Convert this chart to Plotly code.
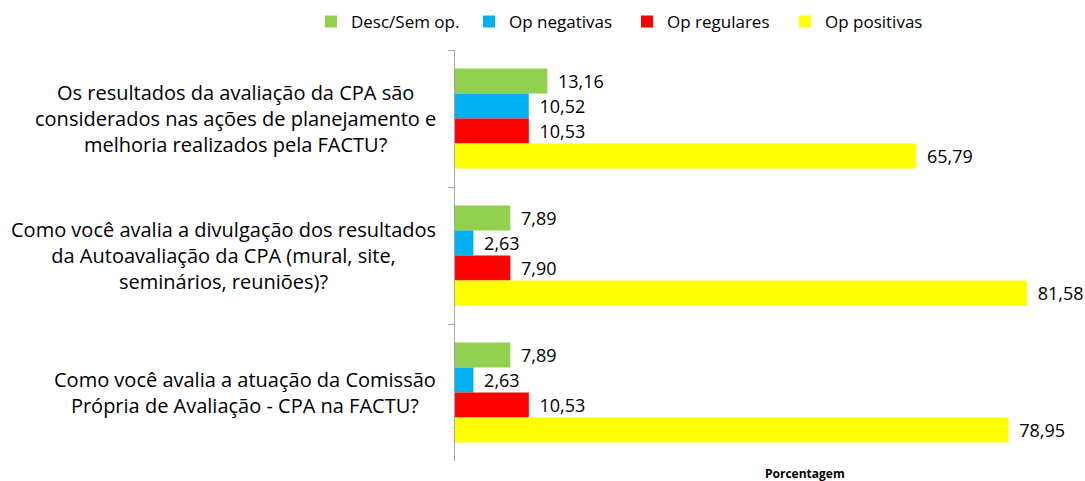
import plotly.graph_objects as go

questions = [
    "Os resultados da avaliação da CPA são<br>considerados nas ações de planejamento e<br>melhoria realizados pela FACTU?",
    "Como você avalia a divulgação dos resultados<br>da Autoavaliação da CPA (mural, site,<br>seminários, reuniões)?",
    "Como você avalia a atuação da Comissão<br>Própria de Avaliação - CPA na FACTU?",
]
series_names = ["Desc/Sem op.", "Op negativas", "Op regulares", "Op positivas"]
desc_sem_op = [13.16, 7.89, 7.89]
op_negativas = [10.52, 2.63, 2.63]
op_regulares = [10.53, 7.90, 10.53]
op_positivas = [65.79, 81.58, 78.95]
colors = ["#92D050", "#00B0F0", "#FF0000", "#FFFF00"]

FONT = "Open Sans"

fig = go.Figure()
for name, values, color in zip(
    series_names, [desc_sem_op, op_negativas, op_regulares, op_positivas], colors
):
    fig.add_trace(
        go.Bar(
            y=questions,
            x=values,
            name=name,
            orientation="h",
            marker={"color": color, "line": {"width": 0}},
            text=["\u00a0\u2009" + f"{v:.2f}".replace(".", ",") for v in values],
            textposition="outside",
            textfont={"family": FONT, "size": 18, "color": "#000000"},
            cliponaxis=False,
        )
    )

# category labels are centre-aligned, so draw them as annotations
for q in questions:
    fig.add_annotation(
        text=q,
        xref="paper",
        yref="y",
        x=0,
        y=q,
        xanchor="right",
        yanchor="middle",
        xshift=-17,
        align="center",
        showarrow=False,
        font={"family": FONT, "size": 20, "color": "#000000"},
    )

fig.update_layout(
    width=1085,
    height=481,
    barmode="group",
    bargap=0.27,
    bargroupgap=0,
    plot_bgcolor="white",
    paper_bgcolor="white",
    font={"family": FONT, "color": "#000000"},
    margin={"l": 455, "r": 13, "t": 50, "b": 20, "autoexpand": False},
    showlegend=True,
    legend={
        "orientation": "h",
        "xref": "paper",
        "x": -0.2334,
        "xanchor": "left",
        "y": 1.112,
        "yref": "paper",
        "yanchor": "top",
        "font": {"family": FONT, "size": 17},
        "entrywidth": 113,
        "itemwidth": 30,
        "traceorder": "normal",
    },
)
fig.update_xaxes(
    range=[0, 88],
    showticklabels=False,
    showgrid=False,
    zeroline=False,
    showline=False,
    ticks="",
)
fig.update_yaxes(
    autorange="reversed",
    showgrid=False,
    showline=True,
    linecolor="#A6A6A6",
    linewidth=1,
    ticks="outside",
    tickson="boundaries",
    ticklen=6,
    tickcolor="#A6A6A6",
    showticklabels=False,
)
fig.add_annotation(
    text="<b>Porcentagem</b>",
    xref="paper",
    yref="paper",
    x=0.567,
    y=-0.03,
    xanchor="center",
    yanchor="middle",
    showarrow=False,
    font={"family": FONT, "size": 12},
)

fig.write_html(
    "out.html",
    config={"displayModeBar": False},
    post_script="document.body.style.margin='0';",
)
